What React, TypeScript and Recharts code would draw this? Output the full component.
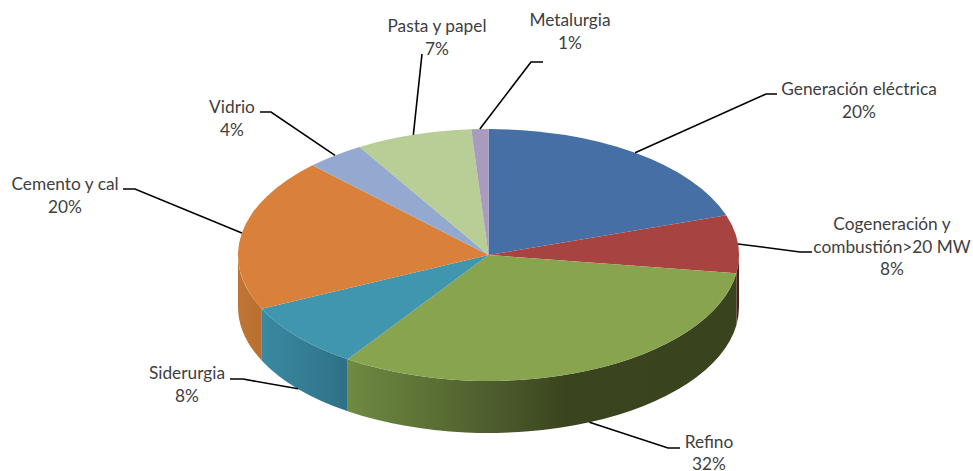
import { PieChart, Pie } from 'recharts';

const sectors = ['Generación eléctrica', 'Cogeneración y combustión>20 MW', 'Refino', 'Siderurgia', 'Cemento y cal', 'Vidrio', 'Pasta y papel', 'Metalurgia'];
// shares, the printed labels are rounded
const shares = [19.9, 7.4, 32.2, 8.5, 19.6, 3.8, 7.5, 1.1];
const percentLabels = ['20%', '8%', '32%', '8%', '20%', '4%', '7%', '1%'];
const labelLines = [['Generación eléctrica'], ['Cogeneración y', 'combustión>20 MW'], ['Refino'], ['Siderurgia'], ['Cemento y cal'], ['Vidrio'], ['Pasta y papel'], ['Metalurgia']];

const topColors = ['#4670a5', '#a74442', '#89a44e', '#3f96ae', '#d9813b', '#93a9cf', '#b9cd96', '#a99bbd'];
const wallColors = ['#2f4a6e', '#4d1f1f', 'url(#wallRefino)', 'url(#wallSiderurgia)', 'url(#wallCemento)', '#62719a', '#7b8964', '#71677e'];

// text centre, first line baseline, and the elbow of each leader line
const labelLayout = [
  { x: 859, y: 95, knee: [766, 94], end: [777, 94] },
  { x: 892, y: 230, knee: [800, 252], end: [812, 252] },
  { x: 709, y: 447.5, knee: [668, 448], end: [680, 448] },
  { x: 187, y: 379, knee: [243, 379], end: [230, 379] },
  { x: 65, y: 190, knee: [135, 189], end: [123, 189] },
  { x: 232, y: 113, knee: [271, 112], end: [260, 112] },
  { x: 437, y: 32, knee: [422, 54], end: [422, 54] },
  { x: 570, y: 26, knee: [531, 62], end: [543, 62] },
];

const WIDTH = 973;
const HEIGHT = 471;
const CX = 488.5;
const CY = 255;
const RX = 250.5;
const RY = 126;
const DEPTH = 52;
const RAD = Math.PI / 180;
const FONT = 'Lato, "Open Sans", sans-serif';

const topData = sectors.map((name, i) => ({ name, value: shares[i], fill: topColors[i] }));
const wallData = sectors.map((name, i) => ({ name, value: shares[i], fill: wallColors[i] }));

function rim(cx: number, cy: number, rx: number, angle: number, drop = 0) {
  const ry = (rx * RY) / RX;
  return [cx + rx * Math.cos(angle * RAD), cy - ry * Math.sin(angle * RAD) + drop];
}

// squashes the circular sector Recharts hands over into the flattened top face
function TopSlice(props: any) {
  const { cx, cy, outerRadius: rx, startAngle, endAngle, fill } = props;
  const ry = (rx * RY) / RX;
  const [x1, y1] = rim(cx, cy, rx, startAngle);
  const [x2, y2] = rim(cx, cy, rx, endAngle);
  const large = Math.abs(startAngle - endAngle) > 180 ? 1 : 0;
  return <path d={`M${cx},${cy}L${x1},${y1}A${rx},${ry} 0 ${large} 1 ${x2},${y2}Z`} fill={fill} />;
}

// only the part of the rim facing the viewer gets a side wall
function WallSlice(props: any) {
  const { cx, cy, outerRadius: rx, startAngle, endAngle, fill } = props;
  const ry = (rx * RY) / RX;
  const s = Math.min(startAngle, 0);
  const e = Math.max(endAngle, -180);
  if (s <= e) return <g />;
  const [x1, y1] = rim(cx, cy, rx, s);
  const [x2, y2] = rim(cx, cy, rx, e);
  return (
    <path
      d={`M${x1},${y1}A${rx},${ry} 0 0 1 ${x2},${y2}L${x2},${y2 + DEPTH}A${rx},${ry} 0 0 0 ${x1},${y1 + DEPTH}Z`}
      fill={fill}
    />
  );
}

function SliceLabel(props: any) {
  const { cx, cy, outerRadius: rx, midAngle, index } = props;
  const layout = labelLayout[index];
  const front = midAngle < -20 && midAngle > -160;
  const [sx, sy] = rim(cx, cy, rx, midAngle, front ? DEPTH : 0);
  const rows = [...labelLines[index], percentLabels[index]];
  return (
    <g>
      <polyline
        points={`${sx},${sy} ${layout.knee[0]},${layout.knee[1]} ${layout.end[0]},${layout.end[1]}`}
        fill="none"
        stroke="#000000"
        strokeWidth={1.6}
      />
      <text x={layout.x} y={layout.y} textAnchor="middle" fill="#404040" fontFamily={FONT} fontSize={17.3}>
        {rows.map((row, i) => (
          <tspan key={row} x={layout.x} dy={i === 0 ? 0 : 22.5}>
            {row}
          </tspan>
        ))}
      </text>
    </g>
  );
}

export default function App() {
  return (
    <div style={{ position: 'absolute', left: 0, top: 0, width: WIDTH, height: HEIGHT, background: '#ffffff' }}>
      <PieChart width={WIDTH} height={HEIGHT} margin={{ top: 0, right: 0, bottom: 0, left: 0 }}>
        <defs>
          <linearGradient id="wallRefino" x1="0" y1="0" x2="1" y2="0">
            <stop offset="0" stopColor="#6f8a41" />
            <stop offset="0.37" stopColor="#4d5d2d" />
            <stop offset="0.56" stopColor="#3a441e" />
            <stop offset="1" stopColor="#39431e" />
          </linearGradient>
          <linearGradient id="wallSiderurgia" x1="0" y1="0" x2="1" y2="0">
            <stop offset="0" stopColor="#3a8aa2" />
            <stop offset="1" stopColor="#2e7085" />
          </linearGradient>
          <linearGradient id="wallCemento" x1="0" y1="0" x2="1" y2="0">
            <stop offset="0" stopColor="#bf7535" />
            <stop offset="1" stopColor="#b86f30" />
          </linearGradient>
        </defs>
        <Pie
          data={wallData}
          dataKey="value"
          nameKey="name"
          cx={CX}
          cy={CY}
          innerRadius={0}
          outerRadius={RX}
          startAngle={90}
          endAngle={-270}
          stroke="none"
          shape={WallSlice}
          isAnimationActive={false}
        />
        <Pie
          data={topData}
          dataKey="value"
          nameKey="name"
          cx={CX}
          cy={CY}
          innerRadius={0}
          outerRadius={RX}
          startAngle={90}
          endAngle={-270}
          stroke="none"
          shape={TopSlice}
          label={SliceLabel}
          labelLine={false}
          isAnimationActive={false}
        />
      </PieChart>
    </div>
  );
}
